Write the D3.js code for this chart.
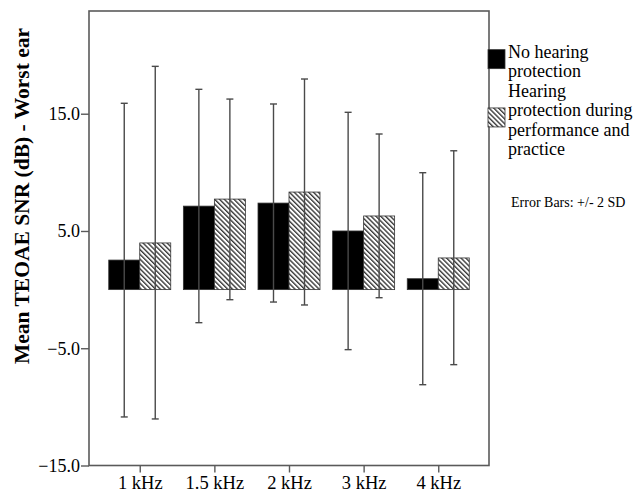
<!DOCTYPE html>
<html lang="en">
<head>
  <meta charset="UTF-8">
  <title>Mean TEOAE SNR - Worst ear</title>
  <script src="https://d3js.org/d3.v7.min.js"></script>
  <style>
    body { margin: 0; background: #fff; }
    svg { display: block; font-family: "Liberation Serif", "Times New Roman", serif; }
    .frame { fill: none; stroke: #5a5a5a; stroke-width: 1.6; }
    .axis path { display: none; }
    .axis line { stroke: #5a5a5a; stroke-width: 1.4; }
    .err { stroke: #4a4a4a; stroke-width: 1.4; }
  </style>
</head>
<body>
  <svg width="640" height="493"></svg>

  <script>
    // values (dB)
    const frequencies = ["1 kHz", "1.5 kHz", "2 kHz", "3 kHz", "4 kHz"];
    const groups = ["No hearing protection", "Hearing protection during performance and practice"];
    const meanNoProt = [2.52, 7.12, 7.38, 5.0, 0.93];
    const meanProt = [3.98, 7.72, 8.32, 6.28, 2.70];
    const lowNoProt = [-10.86, -2.82, -1.06, -5.12, -8.11];
    const highNoProt = [15.89, 17.08, 15.83, 15.12, 9.97];
    const lowProt = [-11.03, -0.86, -1.31, -0.69, -6.40];
    const highProt = [19.04, 16.25, 17.96, 13.27, 11.84];
    const yTicks = [-15, -5, 5, 15];

    const rows = [];
    frequencies.forEach((f, i) => {
      rows.push({ freq: f, group: groups[0], mean: meanNoProt[i], lo: lowNoProt[i], hi: highNoProt[i] });
      rows.push({ freq: f, group: groups[1], mean: meanProt[i], lo: lowProt[i], hi: highProt[i] });
    });

    const svg = d3.select("svg");
    const serif = '"Liberation Serif", "Times New Roman", serif';
    const plotL = 89, plotR = 489, plotT = 11, plotB = 465.5;

    const y = d3.scaleLinear().domain([-15, 23.76]).range([plotB, plotT]);
    const x = d3.scalePoint().domain(frequencies).range([plotL, plotR]).padding(0.68);
    const sub = d3.scaleBand().domain(groups).range([-31, 31]).padding(0);

    const defs = svg.append("defs");
    const pat = defs.append("pattern")
      .attr("id", "hatch")
      .attr("patternUnits", "userSpaceOnUse")
      .attr("width", 3.4).attr("height", 3.4)
      .attr("patternTransform", "rotate(-45)");
    pat.append("rect").attr("width", 3.4).attr("height", 3.4).attr("fill", "#fff");
    pat.append("line").attr("x1", 0.7).attr("y1", 0).attr("x2", 0.7).attr("y2", 3.4)
      .attr("stroke", "#2a2a2a").attr("stroke-width", 1.3);

    const fillFor = g => g === groups[0] ? "#000" : "url(#hatch)";

    // bars
    svg.append("g").selectAll("rect")
      .data(rows)
      .join("rect")
      .attr("x", d => x(d.freq) + sub(d.group))
      .attr("width", sub.bandwidth())
      .attr("y", d => y(Math.max(0, d.mean)))
      .attr("height", d => Math.abs(y(d.mean) - y(0)))
      .attr("fill", d => fillFor(d.group))
      .attr("stroke", "#333")
      .attr("stroke-width", 0.8);

    // error bars
    const eg = svg.append("g").selectAll("g")
      .data(rows)
      .join("g")
      .attr("class", "err")
      .attr("transform", d => `translate(${x(d.freq) + sub(d.group) + sub.bandwidth() / 2},0)`);
    eg.append("line").attr("y1", d => y(d.lo)).attr("y2", d => y(d.hi));
    eg.append("line").attr("x1", -3.5).attr("x2", 3.5).attr("y1", d => y(d.hi)).attr("y2", d => y(d.hi));
    eg.append("line").attr("x1", -3.5).attr("x2", 3.5).attr("y1", d => y(d.lo)).attr("y2", d => y(d.lo));

    // axes
    svg.append("g")
      .attr("class", "axis")
      .attr("transform", `translate(${plotL},0)`)
      .call(d3.axisLeft(y).tickValues(yTicks).tickFormat(d3.format(".1f")).tickSize(8).tickPadding(1))
      .attr("font-family", serif)
      .selectAll("text").attr("fill", "#000").style("font-size", "18px");

    svg.append("g")
      .attr("class", "axis")
      .attr("transform", `translate(0,${plotB})`)
      .call(d3.axisBottom(x).tickSize(7).tickPadding(3))
      .attr("font-family", serif)
      .selectAll("text").attr("fill", "#000").style("font-size", "18.5px");

    svg.append("rect")
      .attr("class", "frame")
      .attr("x", plotL).attr("y", plotT)
      .attr("width", plotR - plotL).attr("height", plotB - plotT);

    svg.append("text")
      .attr("transform", `translate(29,196) rotate(-90)`)
      .attr("text-anchor", "middle")
      .style("font-size", "21.5px")
      .style("font-weight", "bold")
      .text("Mean TEOAE SNR (dB) - Worst ear");

    // legend
    const legendLines = [["No hearing", "protection"], ["Hearing", "protection during", "performance and", "practice"]];
    const legendTop = [58, 97];
    const lineGap = 19.3;
    const legend = svg.append("g");
    groups.forEach((g, i) => {
      const lines = legendLines[i];
      const blockMid = legendTop[i] - 8 + (lines.length - 1) * lineGap / 2;
      legend.append("rect")
        .attr("x", 488).attr("y", blockMid - 10)
        .attr("width", 17).attr("height", 19)
        .attr("fill", fillFor(g))
        .attr("stroke", "#333").attr("stroke-width", 0.8);
      legend.append("text")
        .attr("x", 508).attr("y", legendTop[i])
        .style("font-size", "18px")
        .selectAll("tspan")
        .data(lines)
        .join("tspan")
        .attr("x", 508)
        .attr("dy", (d, j) => j === 0 ? 0 : lineGap)
        .text(d => d);
    });

    svg.append("text")
      .attr("x", 511).attr("y", 207)
      .style("font-size", "14px")
      .text("Error Bars: +/- 2 SD");
  </script>
</body>
</html>
